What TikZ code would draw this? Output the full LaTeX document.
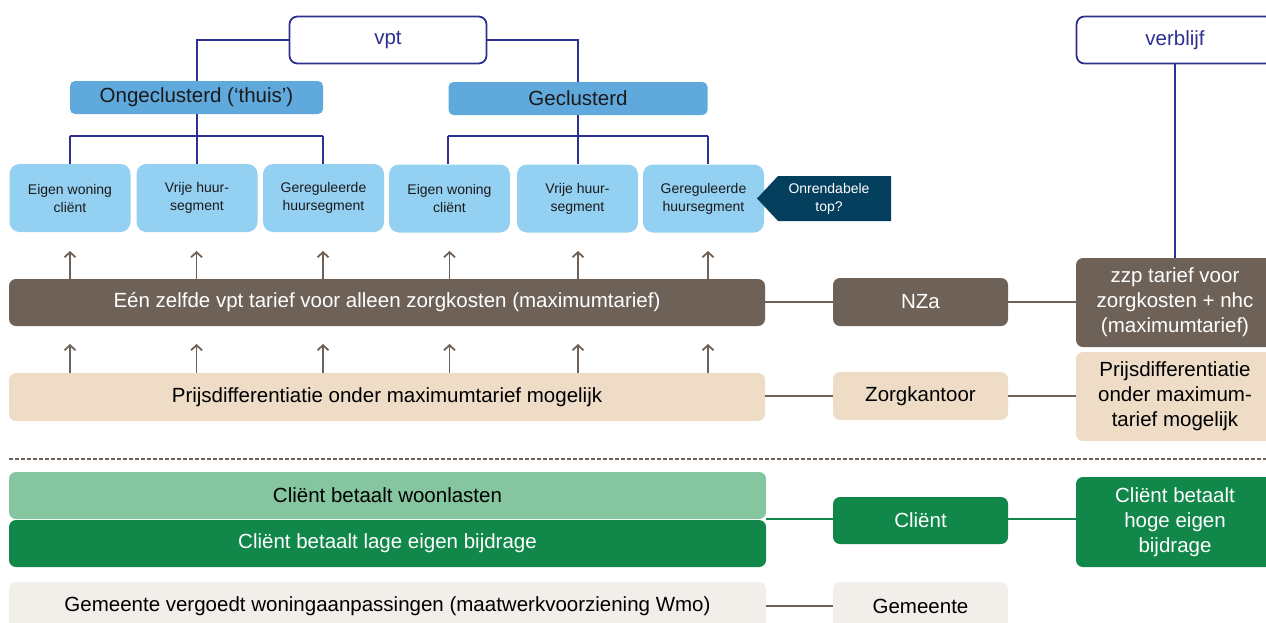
\documentclass[tikz,border=0pt]{standalone}
\usepackage{fontspec}
\setmainfont{Liberation Sans}
\usetikzlibrary{arrows.meta}
\definecolor{navy}{HTML}{2E3192}
\definecolor{midblue}{HTML}{60A9DC}
\definecolor{leafblue}{HTML}{93D0F2}
\definecolor{deepblue}{HTML}{053F5E}
\definecolor{brownish}{HTML}{6E6157}
\definecolor{beige}{HTML}{EEDCC6}
\definecolor{lgreen}{HTML}{85C6A0}
\definecolor{dgreen}{HTML}{11874A}
\definecolor{greyish}{HTML}{F2EEEA}
\definecolor{txt}{HTML}{1A1A1A}
\tikzset{
  base/.style={inner sep=0pt, align=center, font=\fontsize{20.5}{25}\selectfont},
  topbox/.style={base, draw=navy, line width=1.8pt, fill=white, rounded corners=8pt, text=navy, minimum width=197, minimum height=47},
  midbox/.style={base, fill=midblue, rounded corners=5pt, text=txt, minimum height=33},
  leafbox/.style={base, fill=leafblue, rounded corners=10pt, text=txt, minimum width=121, minimum height=68, font=\fontsize{14}{18}\selectfont},
  brownbox/.style={base, fill=brownish, rounded corners=7pt, text=white},
  beigebox/.style={base, fill=beige, rounded corners=7pt, text=black},
  lgreenbox/.style={base, fill=lgreen, rounded corners=7pt, text=black},
  dgreenbox/.style={base, fill=dgreen, rounded corners=7pt, text=white},
  greybox/.style={base, fill=greyish, rounded corners=7pt, text=black},
  tree/.style={draw=navy, line width=2pt},
  link/.style={draw=brownish, line width=1.8pt},
  glink/.style={draw=dgreen, line width=1.8pt},
  uparr/.style={draw=brownish, line width=1.8pt, -{Straight Barb[length=5pt,width=11pt]}},
}
\begin{document}
\begin{tikzpicture}[x=1pt,y=-1pt]
\useasboundingbox (0,0) rectangle (1266,622);
\clip (0,0) rectangle (1266,622);
% top level
\node[topbox] (vpt) at (388,40) {vpt};
\node[topbox] (verb) at (1175,40) {verblijf};
% second level
\node[midbox, minimum width=253] (ongecl) at (196.5,97.5) {Ongeclusterd (‘thuis’)};
\node[midbox, minimum width=259] (gecl) at (578,98.5) {Geclusterd};
% leaves
\node[leafbox] (l1) at (70,198) {Eigen woning\\cliënt};
\node[leafbox] (l2) at (197,198) {Vrije huur-\\segment};
\node[leafbox] (l3) at (323.5,198) {Gereguleerde\\huursegment};
\node[leafbox] (l4) at (449.5,198.5) {Eigen woning\\cliënt};
\node[leafbox] (l5) at (577.5,198.5) {Vrije huur-\\segment};
\node[leafbox] (l6) at (703.5,198.5) {Gereguleerde\\huursegment};
% onrendabele top
\fill[deepblue] (757,198.5) -- (778,176) -- (891,176) -- (891,221) -- (778,221) -- cycle;
\node[base, text=white, font=\fontsize{14}{18}\selectfont] (ontop) at (829,198.5) {Onrendabele\\top?};
% tree connectors
\coordinate (ja) at (196.5,136);
\coordinate (jb) at (578,136);
\draw[tree] (vpt.west) -| (ongecl.north);
\draw[tree] (vpt.east) -| (gecl.north);
\draw[tree] (ongecl.south) -- (ja);
\draw[tree] (ja -| ongecl.west) -- (ja -| ongecl.east);
\draw[tree] (ja -| ongecl.west) -- (l1.north -| ongecl.west);
\draw[tree] (ja) -- (l2.north -| ja);
\draw[tree] (ja -| ongecl.east) -- (l3.north -| ongecl.east);
\draw[tree] (gecl.south) -- (jb);
\draw[tree] (jb -| gecl.west) -- (jb -| gecl.east);
\draw[tree] (jb -| gecl.west) -- (l4.north -| gecl.west);
\draw[tree] (jb) -- (l5.north -| jb);
\draw[tree] (jb -| gecl.east) -- (l6.north -| gecl.east);
% rows
\node[brownbox, minimum width=756, minimum height=47] (een) at (387,302.5) {Eén zelfde vpt tarief voor alleen zorgkosten (maximumtarief)};
\node[brownbox, minimum width=175, minimum height=48] (nza) at (920.5,302) {NZa};
\node[brownbox, minimum width=198, minimum height=89] (zzp) at (1175,302.5) {zzp tarief voor\\zorgkosten + nhc\\(maximumtarief)};
\node[beigebox, minimum width=756, minimum height=48] (prijs) at (387,397) {Prijsdifferentiatie onder maximumtarief mogelijk};
\node[beigebox, minimum width=175, minimum height=48] (zk) at (920.5,396) {Zorgkantoor};
\node[beigebox, minimum width=198, minimum height=89] (prijsr) at (1175,396.5) {Prijsdifferentiatie\\onder maximum-\\tarief mogelijk};
\draw[tree, line width=1.6pt] (verb.south) -- (zzp.north);
\draw[link] (een.east |- nza.west) -- (nza.west);
\draw[link] (nza.east) -- (nza.east -| zzp.west);
\draw[link] (prijs.east |- zk.west) -- (zk.west);
\draw[link] (zk.east) -- (zk.east -| prijsr.west);
% arrows up
\foreach \n/\xx in {a/70,b/196.5,c/323,d/449.5,e/578,f/708}{
  \coordinate (t\n) at (\xx,251);
  \coordinate (m\n) at (\xx,344);
  \draw[uparr] (een.north -| t\n) -- (t\n);
  \draw[uparr] (prijs.north -| m\n) -- (m\n);
}
% dashed separator
\coordinate (dl) at (9,459);
\coordinate (dr) at (1266,459);
\draw[draw=brownish, line width=2.2pt, dash pattern=on 4pt off 2pt] (dl) -- (dr);
% green rows
\node[lgreenbox, minimum width=757, minimum height=47] (woon) at (387.5,495.5) {Cliënt betaalt woonlasten};
\node[dgreenbox, minimum width=757, minimum height=47] (lage) at (387.5,543.5) {Cliënt betaalt lage eigen bijdrage};
\node[dgreenbox, minimum width=175, minimum height=47] (client) at (920.5,520.5) {Cliënt};
\node[dgreenbox, minimum width=198, minimum height=90] (hoge) at (1175,522) {Cliënt betaalt\\hoge eigen\\bijdrage};
\coordinate (gy) at (0,519);
\draw[glink] (gy -| woon.east) -- (gy -| client.west);
\draw[glink] (gy -| client.east) -- (gy -| hoge.west);
% gemeente row
\node[greybox, minimum width=757, minimum height=48] (gemv) at (387.5,606) {Gemeente vergoedt woningaanpassingen (maatwerkvoorziening Wmo)};
\node[greybox, minimum width=175, minimum height=48] (gem) at (920.5,606) {Gemeente};
\draw[link, line width=2.2pt] (gemv.east) -- (gem.west);
\end{tikzpicture}
\end{document}
